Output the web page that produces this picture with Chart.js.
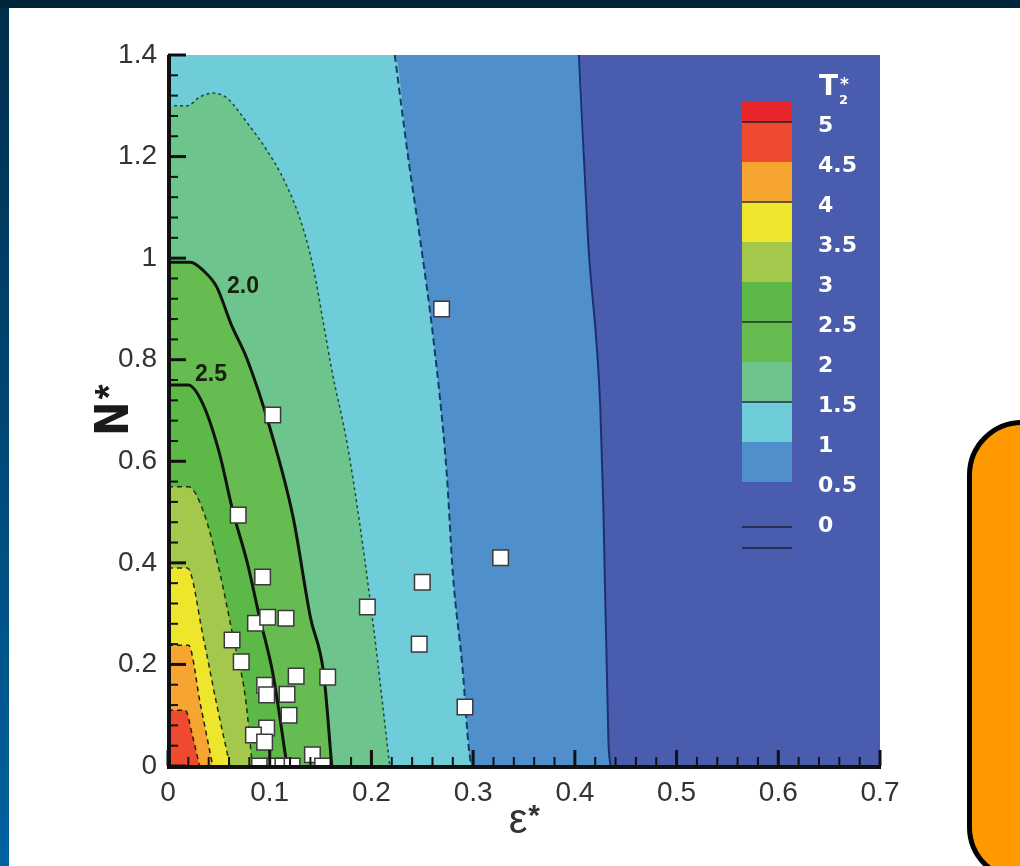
<!DOCTYPE html>
<html>
<head>
<meta charset="utf-8">
<script src="https://cdn.jsdelivr.net/npm/chart.js@4.4.0/dist/chart.umd.min.js"></script>
<style>
html, body { margin: 0; padding: 0; }
body { width: 1020px; height: 866px; position: relative; overflow: hidden; background: #00263c; }
#side { position: absolute; left: 0; top: 8px; width: 9px; height: 858px; background: linear-gradient(#002e4c, #0062a0); }
#panel { position: absolute; left: 9px; top: 8px; right: 0; bottom: 0; background: #fff; }
#chart { position: absolute; left: 0; top: 0; }
#box { position: absolute; left: 967px; top: 420px; width: 120px; height: 452px; background: #ff9900;
       border: 5px solid #000; border-radius: 55px; }
</style>
</head>
<body>
<div id="side"></div>
<div id="panel"></div>
<canvas id="chart" width="1020" height="866"></canvas>
<div id="box"></div>
<script>
// axis ticks
const xTickValues = [0, 0.1, 0.2, 0.3, 0.4, 0.5, 0.6, 0.7]
const xTickLabels = ['0', '0.1', '0.2', '0.3', '0.4', '0.5', '0.6', '0.7']
const yTickValues = [0, 0.2, 0.4, 0.6, 0.8, 1, 1.2, 1.4]
const yTickLabels = ['0', '0.2', '0.4', '0.6', '0.8', '1', '1.2', '1.4']

// contour boundaries of T2* (eps*, N*)
const eps45 = [0, 0.017, 0.024, 0.031]
const n45   = [0.11, 0.11, 0.06, 0]
const eps40 = [0, 0.02, 0.032, 0.044]
const n40   = [0.238, 0.238, 0.12, 0]
const eps35 = [0, 0.019, 0.035, 0.048, 0.061]
const n35   = [0.39, 0.39, 0.25, 0.12, 0]
const eps30 = [0, 0.02, 0.035, 0.051, 0.064, 0.076, 0.083]
const n30   = [0.55, 0.55, 0.50, 0.38, 0.254, 0.136, 0]
const eps25 = [0, 0.02, 0.034, 0.05, 0.064, 0.078, 0.09, 0.103, 0.117]
const n25   = [0.75, 0.75, 0.714, 0.62, 0.50, 0.40, 0.293, 0.183, 0]
const eps20 = [0, 0.022, 0.035, 0.048, 0.062, 0.078, 0.10, 0.123, 0.14, 0.153, 0.161]
const n20   = [0.992, 0.992, 0.975, 0.943, 0.87, 0.80, 0.667, 0.49, 0.293, 0.183, 0]
const eps15 = [0, 0.019, 0.031, 0.045, 0.058, 0.078, 0.097, 0.115, 0.131, 0.143, 0.153, 0.161, 0.176, 0.189, 0.202, 0.218]
const n15   = [1.30, 1.30, 1.317, 1.325, 1.315, 1.266, 1.213, 1.15, 1.07, 0.98, 0.87, 0.78, 0.636, 0.47, 0.274, 0]
const eps10 = [0, 0.223, 0.236, 0.248, 0.261, 0.274, 0.28, 0.29, 0.295, 0.298]
const n10   = [1.4, 1.4, 1.2, 1.035, 0.839, 0.577, 0.38, 0.183, 0.05, 0]
const eps05 = [0, 0.404, 0.413, 0.425, 0.428, 0.433, 0.435]
const n05   = [1.4, 1.4, 1.035, 0.707, 0.51, 0.05, 0]

// measured cases (white squares)
const ptEps = [0.269, 0.103, 0.069, 0.093, 0.327, 0.250, 0.196, 0.247, 0.292, 0.086, 0.098, 0.116, 0.063, 0.072,
               0.126, 0.157, 0.095, 0.097, 0.117, 0.119, 0.097, 0.084, 0.095, 0.142, 0.090, 0.105, 0.113, 0.122, 0.152]
const ptN   = [0.900, 0.691, 0.494, 0.372, 0.410, 0.362, 0.313, 0.240, 0.116, 0.281, 0.293, 0.291, 0.248, 0.205,
               0.177, 0.175, 0.159, 0.140, 0.141, 0.100, 0.075, 0.061, 0.047, 0.022, 0, 0, 0, 0, 0]

// labels on the 2.0 / 2.5 lines
const lineLabels = ['2.0', '2.5']
const lineLabelEps = [0.0737, 0.0423]
const lineLabelN = [0.943, 0.77]

// colour bar
const barLevels = ['5', '4.5', '4', '3.5', '3', '2.5', '2', '1.5', '1', '0.5', '0']
const barColors = ['#e8262b', '#ee4a2f', '#f7a531', '#ede62c', '#a3c84b', '#5cb847', '#66bc50', '#6dc48c',
                   '#6fcdd9', '#4e8fcc', '#4a5cae', '#4a5cae']
const baseColor = '#4a5cae'

// skip: leading points that lie on the top edge (filled but not stroked)
const contours = [
  {eps: eps45, n: n45, fill: '#ee4a2f', line: '#2a1a12', dash: [5, 4], w: 1.5, skip: 0},
  {eps: eps40, n: n40, fill: '#f7a531', line: '#2a1a12', dash: [5, 4], w: 1.5, skip: 0},
  {eps: eps35, n: n35, fill: '#ede62c', line: '#2a2a12', dash: [5, 4], w: 1.5, skip: 0},
  {eps: eps30, n: n30, fill: '#a3c84b', line: '#1e2e14', dash: [5, 4], w: 1.5, skip: 0},
  {eps: eps25, n: n25, fill: '#5cb847', line: '#0e140c', dash: [], w: 3, skip: 0},
  {eps: eps20, n: n20, fill: '#66bc50', line: '#0e140c', dash: [], w: 3, skip: 0},
  {eps: eps15, n: n15, fill: '#6dc48c', line: '#1d4d3c', dash: [3, 3], w: 1.5, skip: 0},
  {eps: eps10, n: n10, fill: '#6fcdd9', line: '#143d66', dash: [7, 4], w: 2, skip: 1},
  {eps: eps05, n: n05, fill: '#4e8fcc', line: '#1e2f70', dash: [], w: 2, skip: 1}
]

const toPoints = (xs, ys) => xs.map((e, k) => ({x: e, y: ys[k]}))

const datasets = [{
  data: toPoints(ptEps, ptN),
  showLine: false,
  pointStyle: 'rect',
  pointRadius: 11,
  pointBackgroundColor: '#ffffff',
  pointBorderColor: '#3a3a3a',
  pointBorderWidth: 1.5,
  clip: 0,
  order: 0
}]
contours.forEach((c, i) => {
  // filled band
  datasets.push({
    data: toPoints(c.eps, c.n),
    borderWidth: 0,
    borderColor: 'rgba(0,0,0,0)',
    backgroundColor: c.fill,
    fill: 'origin',
    pointRadius: 0,
    cubicInterpolationMode: 'monotone',
    order: 2 * i + 2
  })
  // contour line
  datasets.push({
    data: toPoints(c.eps.slice(c.skip), c.n.slice(c.skip)),
    borderColor: c.line,
    borderDash: c.dash,
    borderWidth: c.w,
    fill: false,
    pointRadius: 0,
    cubicInterpolationMode: 'monotone',
    order: 2 * i + 1
  })
})

const decor = {
  id: 'decor',
  beforeDraw(chart) {
    const {ctx, chartArea: a} = chart
    ctx.save()
    ctx.fillStyle = baseColor
    ctx.fillRect(a.left, a.top, a.right - a.left, a.bottom - a.top)
    ctx.restore()
  },
  afterDatasetsDraw(chart) {
    const {ctx, chartArea: a, scales: {x, y}} = chart
    ctx.save()
    // line labels
    ctx.font = 'bold 23px "Liberation Sans", Arial, sans-serif'
    ctx.fillStyle = '#16210f'
    ctx.textAlign = 'center'
    ctx.textBaseline = 'middle'
    lineLabels.forEach((t, i) => ctx.fillText(t, x.getPixelForValue(lineLabelEps[i]), y.getPixelForValue(lineLabelN[i])))

    // axis lines and inward ticks
    ctx.strokeStyle = '#111'
    ctx.setLineDash([])
    ctx.lineWidth = 4
    ctx.beginPath()
    ctx.moveTo(a.left + 1, a.top)
    ctx.lineTo(a.left + 1, a.bottom + 1)
    ctx.lineTo(a.right + 1, a.bottom + 1)
    ctx.stroke()
    for (let k = 0; k <= 35; k++) {
      const major = k % 5 === 0
      ctx.lineWidth = major ? 3 : 2
      const px = x.getPixelForValue(k * 0.02)
      ctx.beginPath()
      ctx.moveTo(px, a.bottom)
      ctx.lineTo(px, a.bottom - (major ? 16 : 9))
      ctx.stroke()
      const py = y.getPixelForValue(k * 0.04)
      ctx.beginPath()
      ctx.moveTo(a.left, py)
      ctx.lineTo(a.left + (major ? 18 : 10), py)
      ctx.stroke()
    }

    // colour bar
    const bx = a.left + 574, bw = 50, top = 102, step = 40
    barColors.forEach((c, i) => {
      const y0 = i === 0 ? top : top + 20 + (i - 1) * step
      const h = i === 0 ? 20 : (i === barColors.length - 1 ? 26 : step)
      ctx.fillStyle = c
      ctx.fillRect(bx, y0, bw, h)
    })
    ctx.strokeStyle = 'rgba(20,20,40,0.85)'
    ctx.lineWidth = 1.5
    ;[0, 2, 5, 7].forEach(i => {
      const yy = top + 20 + i * step
      ctx.beginPath(); ctx.moveTo(bx, yy); ctx.lineTo(bx + bw, yy); ctx.stroke()
    })
    ;[top + 20 + 10 * step + 5, top + 20 + 10 * step + 26].forEach(yy => {
      ctx.beginPath(); ctx.moveTo(bx, yy); ctx.lineTo(bx + bw, yy); ctx.stroke()
    })
    ctx.fillStyle = '#ffffff'
    ctx.textAlign = 'left'
    ctx.textBaseline = 'middle'
    ctx.font = 'bold 22px "DejaVu Sans", sans-serif'
    barLevels.forEach((t, i) => ctx.fillText(t, bx + 76, top + 24 + i * step))
    ctx.textBaseline = 'alphabetic'
    ctx.font = 'bold 28px "DejaVu Sans", sans-serif'
    ctx.fillText('T', bx + 77, 95)
    ctx.font = 'bold 13px "DejaVu Sans", sans-serif'
    ctx.fillText('2', bx + 97, 104)
    ctx.font = 'bold 17px "DejaVu Sans", sans-serif'
    ctx.fillText('*', bx + 98, 90)
    ctx.restore()
  },
  afterDraw(chart) {
    const {ctx, chartArea: a} = chart
    ctx.save()
    // y title N*
    ctx.translate(128, 436)
    ctx.rotate(-Math.PI / 2)
    ctx.fillStyle = '#1a1a1a'
    ctx.textBaseline = 'alphabetic'
    ctx.textAlign = 'left'
    ctx.font = 'bold 46px "Liberation Sans Narrow", "DejaVu Sans Condensed", "Liberation Sans", sans-serif'
    ctx.fillText('N', 0, 0)
    const w = ctx.measureText('N').width
    ctx.font = 'bold 38px "Liberation Sans", sans-serif'
    ctx.fillText('*', w + 2, -6)
    ctx.restore()
    // x title eps*
    ctx.save()
    ctx.fillStyle = '#333'
    ctx.textBaseline = 'alphabetic'
    ctx.textAlign = 'left'
    ctx.font = '42px "Liberation Sans", sans-serif'
    const ew = ctx.measureText('ε').width
    const cx = (a.left + a.right) / 2
    ctx.fillText('ε', cx - ew / 2 - 6, 833)
    ctx.font = 'bold 30px "Liberation Sans", sans-serif'
    ctx.fillText('*', cx + ew / 2 - 5, 825)
    ctx.restore()
  }
}

new Chart(document.getElementById('chart'), {
  type: 'line',
  data: {datasets: datasets},
  plugins: [decor],
  options: {
    responsive: false,
    animation: false,
    layout: {padding: {top: 55, right: 140, left: 0, bottom: 0}},
    plugins: {
      legend: {display: false},
      tooltip: {enabled: false},
      filler: {drawTime: 'beforeDatasetsDraw'}
    },
    scales: {
      x: {
        type: 'linear',
        min: 0,
        max: 0.7,
        afterFit: s => { s.height = 100 },
        afterBuildTicks: s => { s.ticks = xTickValues.map(v => ({value: v})) },
        grid: {display: false, drawTicks: false},
        border: {display: false},
        ticks: {autoSkip: false, maxRotation: 0, padding: 10, color: '#333',
                callback: (v, i) => xTickLabels[i],
                font: {family: '"Liberation Sans", Arial, sans-serif', size: 28}}
      },
      y: {
        type: 'linear',
        min: 0,
        max: 1.4,
        afterFit: s => { s.width = 168 },
        afterBuildTicks: s => { s.ticks = yTickValues.map(v => ({value: v})) },
        grid: {display: false, drawTicks: false},
        border: {display: false},
        ticks: {autoSkip: false, padding: 11, color: '#333',
                callback: (v, i) => yTickLabels[i],
                font: {family: '"Liberation Sans", Arial, sans-serif', size: 28}}
      }
    }
  }
})
</script>
</body>
</html>
